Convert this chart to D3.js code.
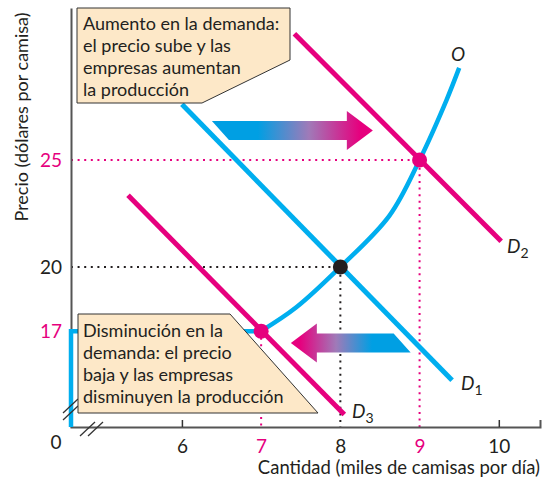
<!DOCTYPE html>
<html>
<head>
<meta charset="utf-8">
<script src="https://cdn.jsdelivr.net/npm/d3@7"></script>
<style>
  body { margin: 0; background: #fff; }
  svg text { font-family: Lato, "Open Sans", sans-serif; }
</style>
</head>
<body>
<svg width="543" height="481"></svg>
<script>
// data (miles de camisas, dolares)
const xTicks = [6, 7, 8, 9, 10]
const yTicks = [17, 20, 25]
const pinkTicks = [7, 9, 17, 25]

const supplyQ = [7, 7.44, 8, 8.62, 9, 9.34, 9.5]
const supplyP = [17, 18.1, 20, 22.4, 25, 27.8, 29.3]
// tramo vertical/horizontal del inicio de la oferta
const supplyBaseQ = [4.6, 4.6, 7]
const supplyBaseP = [12.52, 17, 17]

const d1Q = [6.0, 9.41]
const d1P = [27.6, 14.7]
const d2Q = [7.42, 10.03]
const d2P = [30.9, 21.2]
const d3Q = [5.32, 8.05]
const d3P = [23.35, 13.1]

const eqQ = [8, 9, 7]
const eqP = [20, 25, 17]
const eqColor = ["#231f20", "#e6007e", "#e6007e"]

// flechas: desde (centro de la cola) / hasta (punta), y precio
const arrowUp = { from: 6.486, to: 8.41, p: 26.38 }
const arrowDown = { from: 8.78, to: 7.375, p: 16.45 }

const blue = "#00aeef"
const pink = "#e6007e"

var svg = d3.select("svg")
const x = d3.scaleLinear().domain([4.6, 10.52]).range([71, 540])
const y = d3.scaleLinear().domain([12.52, 32.1]).range([427, 8])

const defs = svg.append("defs")
function grad(id, x1, x2, c1, c2) {
    const g = defs.append("linearGradient").attr("id", id)
        .attr("gradientUnits", "userSpaceOnUse")
        .attr("x1", x1).attr("x2", x2).attr("y1", 0).attr("y2", 0)
    g.append("stop").attr("offset", 0).attr("stop-color", c1)
    g.append("stop").attr("offset", 0.5).attr("stop-color", "#a07ab8")
    g.append("stop").attr("offset", 1).attr("stop-color", c2)
}
grad("gUp", 258, 360, "#009fe3", pink)
grad("gDown", 300, 372, pink, "#009fe3")

const pts = (qs, ps) => qs.map((q, i) => [x(q), y(ps[i])])
const line = d3.line()

// lineas punteadas
function dotted(q, p, color) {
    svg.append("path")
        .attr("d", line([[x.range()[0], y(p)], [x(q), y(p)], [x(q), y.range()[0]]]))
        .attr("fill", "none").attr("stroke", color)
        .attr("stroke-width", 2).attr("stroke-dasharray", "2,4.6")
}
dotted(9, 25, pink)
dotted(8, 20, "#231f20")
svg.append("path")
    .attr("d", line([[x(7), y(17)], [x(7), y.range()[0]]]))
    .attr("stroke", pink).attr("stroke-width", 2).attr("stroke-dasharray", "2,4.6")

// ejes
const xAxis = svg.append("g").attr("transform", "translate(0,427)")
    .call(d3.axisBottom(x).tickValues(xTicks).tickSize(-7).tickPadding(13).tickFormat(d3.format("d")))
xAxis.select(".domain").attr("stroke", "#555").attr("stroke-width", 2)
xAxis.selectAll(".tick line").attr("stroke", "#333").attr("stroke-width", 1.5)
    .attr("opacity", d => (d == 6 || d == 10) ? 1 : 0)
xAxis.selectAll(".tick text").attr("font-size", 19)
    .attr("fill", d => pinkTicks.includes(d) ? pink : "#231f20")

const yAxis = svg.append("g").attr("transform", "translate(71,0)")
    .call(d3.axisLeft(y).tickValues(yTicks).tickSize(0).tickPadding(9))
yAxis.select(".domain").attr("stroke", "#555").attr("stroke-width", 2)
yAxis.selectAll(".tick text").attr("font-size", 19)
    .attr("fill", d => pinkTicks.includes(d) ? pink : "#231f20")

svg.append("text").attr("x", 56).attr("y", 449).attr("text-anchor", "middle")
    .attr("font-size", 19).attr("fill", "#231f20").text("0")

svg.append("text").attr("x", 540).attr("y", 474).attr("text-anchor", "end")
    .attr("font-size", 18.5).attr("fill", "#231f20")
    .text("Cantidad (miles de camisas por día)")
svg.append("text").attr("transform", "translate(28,117) rotate(-90)")
    .attr("text-anchor", "middle").attr("font-size", 18).attr("fill", "#231f20")
    .text("Precio (dólares por camisa)")

// oferta
svg.append("path").attr("d", line(pts(supplyBaseQ, supplyBaseP)))
    .attr("fill", "none").attr("stroke", blue).attr("stroke-width", 4.5)
svg.append("path").attr("d", d3.line().curve(d3.curveCatmullRom)(pts(supplyQ, supplyP)))
    .attr("fill", "none").attr("stroke", blue).attr("stroke-width", 4.5)

// cortes de eje
function slash(x0, y0) {
    svg.append("line")
        .attr("x1", x0).attr("y1", y0).attr("x2", x0 + 15).attr("y2", y0 - 14)
        .attr("stroke", "#333").attr("stroke-width", 1.3)
}
slash(80, 436); slash(88, 436)
slash(63, 413); slash(63, 420)

// demandas
const demands = [[d1Q, d1P, blue], [d2Q, d2P, pink], [d3Q, d3P, pink]]
svg.selectAll(".demand").data(demands).join("path")
    .attr("class", "demand")
    .attr("d", d => line(pts(d[0], d[1])))
    .attr("stroke", d => d[2]).attr("stroke-width", 5).attr("fill", "none")

// flechas
function arrow(a, fill) {
    const dir = a.to > a.from ? 1 : -1
    const xc = x(a.from), x1 = x(a.to), cy = y(a.p)
    const bh = 9.5, hh = 19.5, hl = 26 * dir
    const poly = [
        [xc - 8.5, cy - bh],
        [x1 - hl, cy - bh], [x1 - hl, cy - hh], [x1, cy],
        [x1 - hl, cy + hh], [x1 - hl, cy + bh],
        [xc + 8.5, cy + bh]
    ]
    svg.append("path").attr("d", line(poly) + "Z").attr("fill", fill)
}
arrow(arrowUp, "url(#gUp)")
arrow(arrowDown, "url(#gDown)")

// puntos de equilibrio
svg.selectAll(".eq").data(eqQ).join("circle")
    .attr("class", "eq")
    .attr("cx", d => x(d)).attr("cy", (d, i) => y(eqP[i]))
    .attr("r", 7.5).attr("fill", (d, i) => eqColor[i])

// etiquetas de curvas
function curveLabel(px, py, main, sub) {
    const t = svg.append("text").attr("x", px).attr("y", py)
        .attr("font-size", 19).attr("font-style", "italic").attr("fill", "#231f20")
    t.append("tspan").text(main)
    if (sub) t.append("tspan").attr("font-size", 14).attr("font-style", "normal")
        .attr("dy", 5).text(sub)
}
curveLabel(451, 61, "O")
curveLabel(507, 253, "D", "2")
curveLabel(461, 390, "D", "1")
curveLabel(352, 418, "D", "3")

// cuadros de texto
function box(poly, lines, tx, ty) {
    svg.append("path").attr("d", line(poly) + "Z")
        .attr("fill", "#fde8c8").attr("stroke", "#333").attr("stroke-width", 1)
    svg.append("g").selectAll("text").data(lines).join("text")
        .attr("x", tx).attr("y", (d, i) => ty + i * 22)
        .attr("font-size", 18).attr("fill", "#231f20").text(d => d)
}
box([[77, 8], [290, 8], [290, 60], [202, 103], [77, 103]],
    ["Aumento en la demanda:", "el precio sube y las", "empresas aumentan", "la producción"], 83, 30)
box([[78, 314], [230, 314], [318, 413], [78, 413]],
    ["Disminución en la", "demanda: el precio", "baja y las empresas", "disminuyen la producción"], 83, 337)
</script>
</body>
</html>
